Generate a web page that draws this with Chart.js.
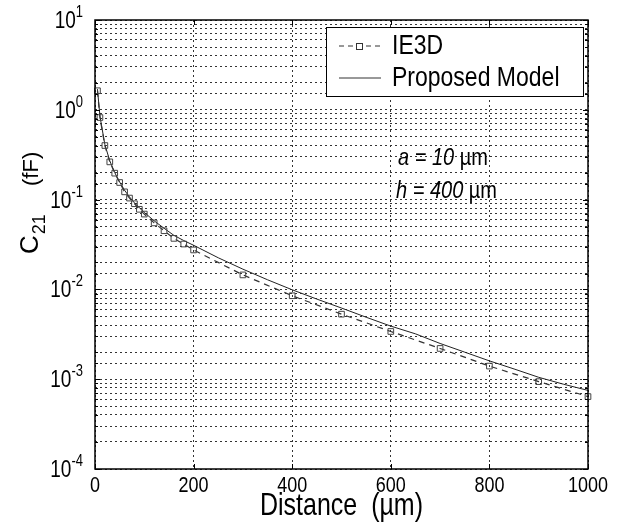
<!DOCTYPE html>
<html>
<head>
<meta charset="utf-8">
<script src="https://cdn.jsdelivr.net/npm/chart.js@4.4.1/dist/chart.umd.min.js"></script>
<style>
  body { margin: 0; background: #fff; }
  #box { width: 620px; height: 528px; }
</style>
</head>
<body>
<div id="box"><canvas id="myChart" width="620" height="528"></canvas></div>
<script>
// dane

const distIE3D = [5, 10, 20, 30, 40, 50, 60, 70, 80, 90, 100, 120, 140, 160, 180, 200, 300, 400, 500, 600, 700, 800, 900, 1000];
const c21IE3D = [1.63, 0.82, 0.40, 0.263, 0.197, 0.155, 0.122, 0.104, 0.09, 0.078, 0.069, 0.055, 0.045, 0.037, 0.032, 0.0275, 0.0145, 0.0085, 0.0053, 0.0034, 0.0022, 0.0014, 0.00094, 0.00064];

const distModel = [5, 10, 20, 30, 40, 50, 60, 70, 80, 90, 100, 120, 140, 160, 180, 200, 250, 300, 350, 400, 450, 500, 550, 600, 650, 700, 750, 800, 850, 900, 950, 1000];
const c21Model = [1.7, 0.85, 0.41, 0.27, 0.2, 0.157, 0.127, 0.107, 0.092, 0.081, 0.072, 0.058, 0.048, 0.04, 0.035, 0.031, 0.0225, 0.0168, 0.0128, 0.0099, 0.0078, 0.0062, 0.0049, 0.0039, 0.0032, 0.0025, 0.002, 0.0016, 0.0013, 0.00105, 0.00088, 0.00075];

const xTicks = [0, 200, 400, 600, 800, 1000];
const yPowers = [1, 0, -1, -2, -3, -4];

const seriesNames = ["IE3D", "Proposed Model"];

const FONT = "'Liberation Sans', Arial, sans-serif";
const STRETCH = 1.22; // tekst w oryginale jest wyższy

function toPoints(xs, ys) {
  return xs.map((x, i) => ({ x: x, y: ys[i] }));
}

// tekst rozciągnięty w pionie
function tallText(ctx, str, x, y) {
  ctx.save();
  ctx.translate(x, y);
  ctx.scale(1, STRETCH);
  ctx.fillText(str, 0, 0);
  ctx.restore();
}

// rysowanie ramki, opisów osi, legendy i napisów
const decor = {
  id: 'decor',
  afterDatasetsDraw(chart) {
    const ctx = chart.ctx;
    const a = chart.chartArea;
    const xs = chart.scales.x;
    const ys = chart.scales.y;
    ctx.save();

    // ramka
    ctx.strokeStyle = '#000';
    ctx.lineWidth = 1.5;
    ctx.setLineDash([]);
    ctx.strokeRect(a.left, a.top, a.right - a.left, a.bottom - a.top);

    // kreski wewnątrz ramki
    ctx.lineWidth = 1;
    ctx.beginPath();
    for (const v of xTicks) {
      const px = Math.round(xs.getPixelForValue(v)) + 0.5;
      ctx.moveTo(px, a.bottom); ctx.lineTo(px, a.bottom - 5);
      ctx.moveTo(px, a.top); ctx.lineTo(px, a.top + 5);
    }
    for (const t of ys.ticks) {
      const py = Math.round(ys.getPixelForValue(t.value)) + 0.5;
      const major = Math.abs(Math.log10(t.value) - Math.round(Math.log10(t.value))) < 1e-6;
      const len = major ? 5 : 3;
      ctx.moveTo(a.left, py); ctx.lineTo(a.left + len, py);
      ctx.moveTo(a.right, py); ctx.lineTo(a.right - len, py);
    }
    ctx.stroke();

    // etykiety osi x
    ctx.fillStyle = '#000';
    ctx.font = '18px ' + FONT;
    ctx.textAlign = 'center';
    ctx.textBaseline = 'middle';
    for (const v of xTicks) {
      tallText(ctx, String(v), xs.getPixelForValue(v), a.bottom + 17);
    }

    // etykiety osi y (10 do potęgi)
    for (const p of yPowers) {
      const py = ys.getPixelForValue(Math.pow(10, p));
      ctx.font = '13px ' + FONT;
      const ew = ctx.measureText(String(p)).width;
      const right = a.left - 12;
      ctx.textAlign = 'left';
      ctx.textBaseline = 'alphabetic';
      tallText(ctx, String(p), right - ew, py - 3);
      ctx.font = '19px ' + FONT;
      ctx.textAlign = 'right';
      tallText(ctx, '10', right - ew, py + 8);
    }

    // tytuł osi x
    ctx.font = '25px ' + FONT;
    ctx.textAlign = 'center';
    ctx.textBaseline = 'middle';
    tallText(ctx, 'Distance  (\u00b5m)', (a.left + a.right) / 2, 507);

    // tytuł osi y
    ctx.save();
    ctx.translate(38, 254);
    ctx.rotate(-Math.PI / 2);
    ctx.textAlign = 'left';
    ctx.textBaseline = 'alphabetic';
    ctx.font = '26px ' + FONT;
    ctx.fillText('C', 0, 0);
    let w = ctx.measureText('C').width;
    ctx.font = '18px ' + FONT;
    ctx.fillText('21', w + 1, 7);
    ctx.font = '22px ' + FONT;
    ctx.fillText('(fF)', 68, 0);
    ctx.restore();

    // legenda
    const lx = 326, ly = 27, lw = 257, lh = 69;
    ctx.fillStyle = '#fff';
    ctx.fillRect(lx, ly, lw, lh);
    ctx.strokeStyle = '#000';
    ctx.lineWidth = 1;
    ctx.strokeRect(lx + 0.5, ly + 0.5, lw, lh);

    const y1 = 46, y2 = 78;
    ctx.strokeStyle = '#333';
    ctx.setLineDash([5, 4]);
    ctx.beginPath(); ctx.moveTo(339, y1); ctx.lineTo(381, y1); ctx.stroke();
    ctx.setLineDash([]);
    ctx.fillStyle = '#fff';
    ctx.fillRect(356, y1 - 3, 7, 7);
    ctx.strokeRect(356.5, y1 - 2.5, 6, 6);
    ctx.beginPath(); ctx.moveTo(339, y2); ctx.lineTo(381, y2); ctx.stroke();

    ctx.fillStyle = '#000';
    ctx.font = '23px ' + FONT;
    ctx.textAlign = 'left';
    ctx.textBaseline = 'middle';
    tallText(ctx, seriesNames[0], 392, y1);
    tallText(ctx, seriesNames[1], 392, y2);

    // napisy a i h
    function note(it, rest, x, y) {
      ctx.font = 'italic 20px ' + FONT;
      tallText(ctx, it, x, y);
      const w1 = ctx.measureText(it).width;
      ctx.font = '20px ' + FONT;
      tallText(ctx, rest, x + w1, y);
    }
    note('a = 10 ', '\u00b5m', 398, 158);
    note('h = 400 ', '\u00b5m', 396, 191);

    ctx.restore();
  }
};

const whiteBg = {
  id: 'whiteBg',
  beforeDraw(chart) {
    const ctx = chart.ctx;
    ctx.save();
    ctx.fillStyle = '#fff';
    ctx.fillRect(0, 0, chart.width, chart.height);
    ctx.restore();
  }
};

const ctx = document.getElementById('myChart');
const myChart = new Chart(ctx, {
  type: 'line',
  data: {
    datasets: [{
      label: seriesNames[0],
      data: toPoints(distIE3D, c21IE3D),
      borderColor: '#333',
      borderWidth: 1.2,
      borderDash: [6, 5],
      pointStyle: 'rect',
      pointRadius: 4,
      pointBorderWidth: 1,
      pointBorderColor: '#444',
      pointBackgroundColor: 'rgba(255,255,255,0)',
      tension: 0,
      clip: false
    }, {
      label: seriesNames[1],
      data: toPoints(distModel, c21Model),
      borderColor: '#222',
      borderWidth: 1,
      pointRadius: 0,
      tension: 0,
      clip: false
    }]
  },
  options: {
    responsive: false,
    animation: false,
    layout: { padding: { left: 95, right: 32, top: 20, bottom: 59 } },
    plugins: {
      legend: { display: false },
      tooltip: { enabled: false }
    },
    scales: {
      x: {
        type: 'linear',
        min: 0,
        max: 1000,
        ticks: { stepSize: 200, display: false },
        grid: { color: '#333', lineWidth: 1, drawTicks: false },
        border: { display: false, dash: [2, 3] }
      },
      y: {
        type: 'logarithmic',
        min: 1e-4,
        max: 10,
        ticks: { display: false, autoSkip: false },
        grid: { color: '#333', lineWidth: 1, drawTicks: false },
        border: { display: false, dash: [2, 3] }
      }
    }
  },
  plugins: [whiteBg, decor]
});
</script>
</body>
</html>
